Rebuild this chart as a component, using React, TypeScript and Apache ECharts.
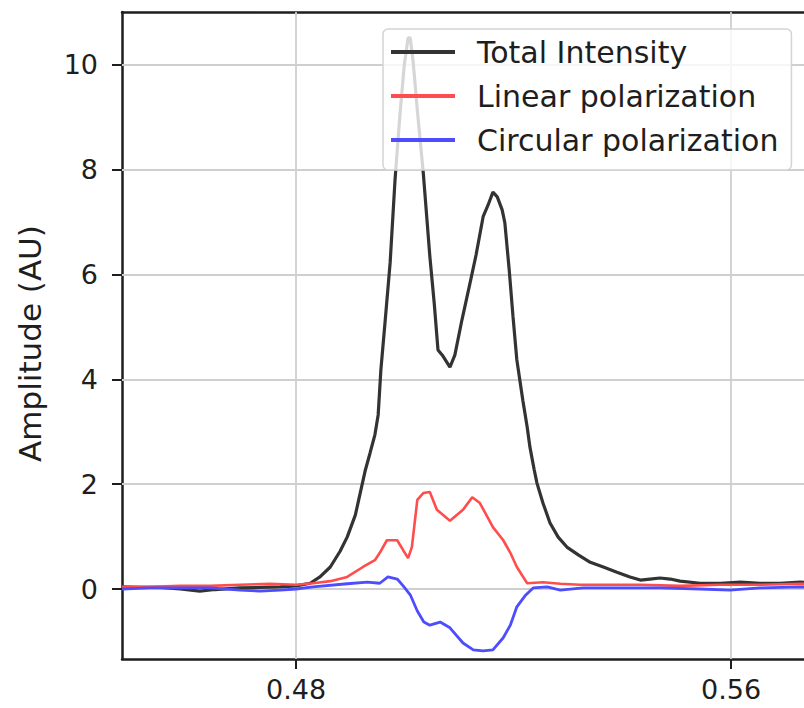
import React, { useEffect, useRef } from "react";
import * as echarts from "echarts";

// Wavelength-like x values and amplitudes
const totalX = [0.4480, 0.4513, 0.4550, 0.4587, 0.4623, 0.4651, 0.4697, 0.4734, 0.4771, 0.4800, 0.4826, 0.4844, 0.4863, 0.4881, 0.4894, 0.4909, 0.4918, 0.4927, 0.4936, 0.4945, 0.4951, 0.4956, 0.4964, 0.4973, 0.4982, 0.4991, 0.4999, 0.5006, 0.5010, 0.5015, 0.5023, 0.5034, 0.5046, 0.5054, 0.5061, 0.5069, 0.5083, 0.5092, 0.5105, 0.5120, 0.5131, 0.5144, 0.5153, 0.5162, 0.5170, 0.5179, 0.5184, 0.5192, 0.5199, 0.5206, 0.5217, 0.5225, 0.5230, 0.5238, 0.5243, 0.5254, 0.5267, 0.5282, 0.5298, 0.5319, 0.5341, 0.5365, 0.5390, 0.5414, 0.5433, 0.5451, 0.5469, 0.5488, 0.5506, 0.5543, 0.5580, 0.5617, 0.5653, 0.5690, 0.5727, 0.5764];
const totalY = [0.04, 0.03, 0.03, 0.00, -0.04, -0.01, 0.02, 0.03, 0.04, 0.06, 0.11, 0.23, 0.42, 0.72, 0.99, 1.41, 1.83, 2.25, 2.59, 2.94, 3.32, 4.18, 5.13, 6.22, 7.80, 9.04, 9.99, 10.51, 10.51, 10.09, 9.14, 7.93, 6.35, 5.46, 4.56, 4.46, 4.23, 4.46, 5.13, 5.84, 6.37, 7.10, 7.32, 7.57, 7.48, 7.23, 6.98, 6.08, 5.19, 4.37, 3.60, 3.09, 2.71, 2.27, 2.02, 1.64, 1.26, 0.99, 0.80, 0.65, 0.51, 0.42, 0.32, 0.23, 0.17, 0.19, 0.21, 0.19, 0.15, 0.11, 0.11, 0.13, 0.11, 0.11, 0.13, 0.12];

const linearX = [0.4480, 0.4531, 0.4587, 0.4642, 0.4697, 0.4752, 0.4800, 0.4831, 0.4863, 0.4894, 0.4923, 0.4945, 0.4954, 0.4967, 0.4986, 0.4997, 0.5006, 0.5013, 0.5023, 0.5034, 0.5046, 0.5059, 0.5083, 0.5107, 0.5124, 0.5138, 0.5162, 0.5181, 0.5194, 0.5206, 0.5225, 0.5254, 0.5286, 0.5322, 0.5377, 0.5433, 0.5506, 0.5580, 0.5653, 0.5727, 0.5764];
const linearY = [0.04, 0.04, 0.06, 0.06, 0.08, 0.10, 0.08, 0.11, 0.15, 0.23, 0.42, 0.55, 0.69, 0.93, 0.93, 0.74, 0.59, 0.80, 1.70, 1.83, 1.85, 1.51, 1.30, 1.51, 1.75, 1.64, 1.18, 0.93, 0.69, 0.42, 0.11, 0.13, 0.10, 0.08, 0.08, 0.08, 0.06, 0.08, 0.08, 0.10, 0.09];

const circularX = [0.4480, 0.4531, 0.4587, 0.4642, 0.4697, 0.4734, 0.4771, 0.4800, 0.4831, 0.4894, 0.4931, 0.4954, 0.4969, 0.4986, 0.4997, 0.5010, 0.5023, 0.5035, 0.5046, 0.5065, 0.5083, 0.5107, 0.5126, 0.5144, 0.5162, 0.5181, 0.5194, 0.5206, 0.5221, 0.5236, 0.5262, 0.5286, 0.5328, 0.5396, 0.5469, 0.5543, 0.5598, 0.5653, 0.5727, 0.5764];
const circularY = [0.00, 0.02, 0.02, 0.02, -0.02, -0.04, -0.02, 0.00, 0.04, 0.10, 0.13, 0.11, 0.23, 0.19, 0.06, -0.11, -0.42, -0.63, -0.69, -0.63, -0.74, -1.03, -1.16, -1.18, -1.16, -0.93, -0.69, -0.34, -0.13, 0.02, 0.04, -0.02, 0.02, 0.02, 0.02, 0.00, -0.02, 0.02, 0.04, 0.03];

const seriesNames = ["Total Intensity", "Linear polarization", "Circular polarization"];
const xTicks = [0.48, 0.56];
const yTicks = [0, 2, 4, 6, 8, 10];

const X_MIN = 0.448;
const X_MAX = 0.5734;
const Y_MIN = -1.335;
const Y_MAX = 11.005;

const FONT = "DejaVu Sans";
const TEXT = "#1e1e1e";

const zip = (xs: number[], ys: number[]) => xs.map((x, i) => [x, ys[i]]);

export default function App() {
  const ref = useRef<HTMLDivElement>(null);
  useEffect(() => {
    if (!ref.current) return;
    const chart = echarts.init(ref.current, undefined, { renderer: "svg" });
    const gridLineData = [
      ...xTicks.map((v) => ({ xAxis: v })),
      ...yTicks.map((v) => ({ yAxis: v })),
    ];
    chart.setOption({
      animation: false,
      backgroundColor: "#ffffff",
      grid: { left: 122, top: 12, bottom: 49, right: 0, show: false },
      xAxis: [
        {
          type: "value",
          min: X_MIN,
          max: X_MAX,
          position: "bottom",
          axisLine: { show: true, onZero: false, lineStyle: { color: TEXT, width: 2.5 } },
          axisTick: { show: true, customValues: xTicks, length: 10, lineStyle: { color: TEXT, width: 2 } },
          axisLabel: {
            show: true,
            customValues: xTicks,
            formatter: (v: number) => v.toFixed(2),
            margin: 17,
            fontSize: 27,
            fontFamily: FONT,
            color: TEXT,
          },
          splitLine: { show: false },
        },
        {
          type: "value",
          min: X_MIN,
          max: X_MAX,
          position: "top",
          axisLine: { show: true, onZero: false, lineStyle: { color: TEXT, width: 2.5 } },
          axisTick: { show: false },
          axisLabel: { show: false },
          splitLine: { show: false },
        },
      ],
      yAxis: {
        type: "value",
        min: Y_MIN,
        max: Y_MAX,
        name: "Amplitude (AU)",
        nameLocation: "middle",
        nameGap: 77,
        nameTextStyle: { fontSize: 31, fontFamily: FONT, color: TEXT, padding: [0, 16, 0, 0] },
        axisLine: { show: true, onZero: false, lineStyle: { color: TEXT, width: 2.5 } },
        axisTick: { show: true, customValues: yTicks, length: 10, lineStyle: { color: TEXT, width: 2 } },
        axisLabel: {
          show: true,
          customValues: yTicks,
          margin: 24,
          fontSize: 27,
          fontFamily: FONT,
          color: TEXT,
        },
        splitLine: { show: false },
      },
      legend: {
        data: seriesNames,
        orient: "vertical",
        left: 383,
        top: 29,
        padding: [8, 13, 15, 8],
        icon: "rect",
        itemWidth: 64,
        itemHeight: 4,
        itemGap: 14,
        backgroundColor: "rgba(255,255,255,0.8)",
        borderColor: "#d4d4d4",
        borderWidth: 1.5,
        borderRadius: 5,
        z: 20,
        textStyle: {
          fontSize: 30,
          lineHeight: 30,
          fontFamily: FONT,
          color: TEXT,
          padding: [0, 0, 0, 17],
        },
      },
      series: [
        {
          name: "grid",
          type: "line",
          data: [],
          z: 1,
          silent: true,
          markLine: {
            silent: true,
            symbol: ["none", "none"],
            label: { show: false },
            lineStyle: { color: "#cfcfcf", width: 1.8, type: "solid" },
            emphasis: { disabled: true },
            data: gridLineData,
          },
        },
        {
          name: seriesNames[0],
          type: "line",
          z: 10,
          data: zip(totalX, totalY),
          showSymbol: false,
          symbol: "none",
          lineStyle: { color: "#333333", width: 3.2 },
          itemStyle: { color: "#333333" },
        },
        {
          name: seriesNames[1],
          type: "line",
          z: 10,
          data: zip(linearX, linearY),
          showSymbol: false,
          symbol: "none",
          lineStyle: { color: "#ff4d4d", width: 2.6 },
          itemStyle: { color: "#ff4d4d" },
        },
        {
          name: seriesNames[2],
          type: "line",
          z: 10,
          data: zip(circularX, circularY),
          showSymbol: false,
          symbol: "none",
          lineStyle: { color: "#4d4dff", width: 2.8 },
          itemStyle: { color: "#4d4dff" },
        },
      ],
    });
    return () => chart.dispose();
  }, []);
  return (
    <div
      ref={ref}
      style={{ position: "absolute", left: 0, top: 0, width: 804, height: 708 }}
    />
  );
}
